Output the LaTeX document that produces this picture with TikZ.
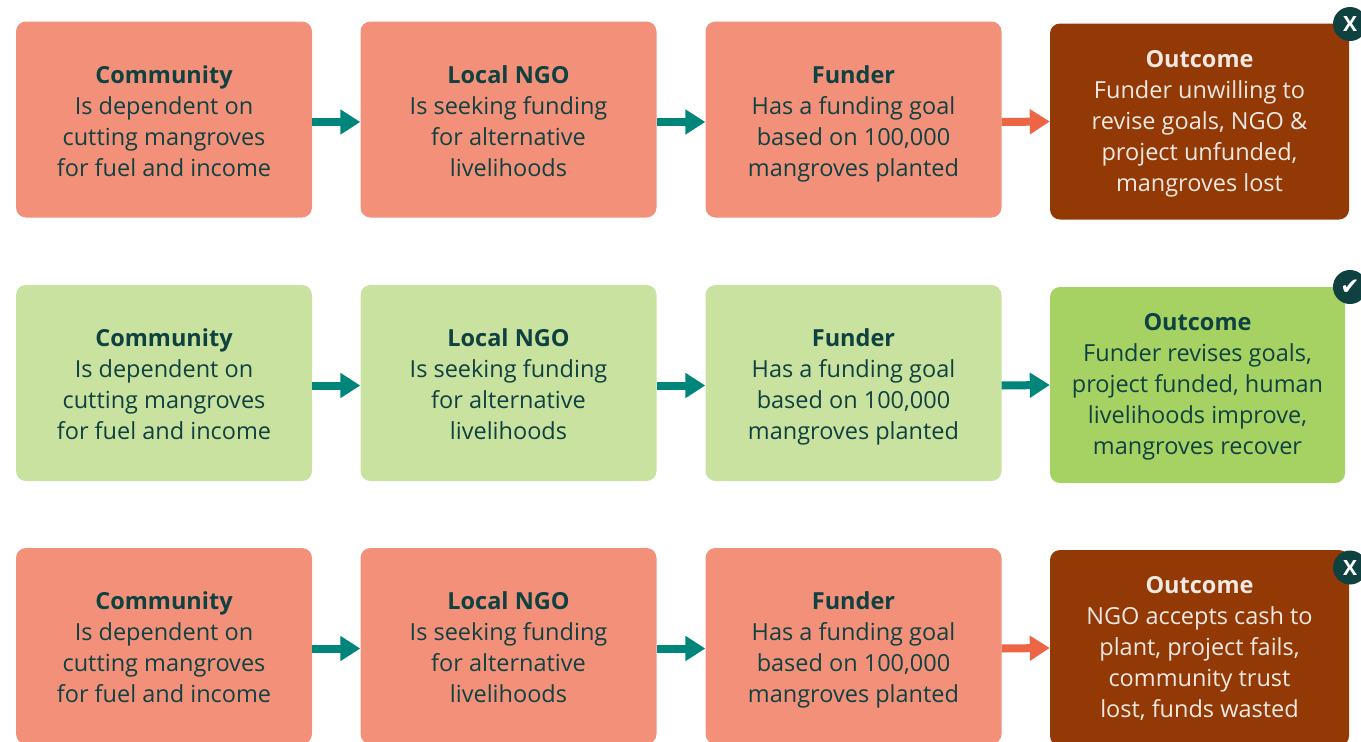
\documentclass[tikz,border=0pt]{standalone}
\usepackage{fontspec}
\setmainfont{Open Sans}
\newfontfamily\markfont{DejaVu Sans}
\usetikzlibrary{arrows.meta}
\definecolor{inkteal}{HTML}{0F4140}
\definecolor{salmon}{HTML}{F3907A}
\definecolor{palegreen}{HTML}{C9E2A0}
\definecolor{leafgreen}{HTML}{A5D263}
\definecolor{rustbrown}{HTML}{933905}
\definecolor{arrowteal}{HTML}{00857A}
\definecolor{arroworange}{HTML}{EC6545}
\definecolor{paletext}{HTML}{F3E9E3}
\newcommand{\actorhead}[1]{\rule{0pt}{26pt}\textbf{#1}}
\newcommand{\outhead}[1]{\rule{0pt}{21pt}\textbf{#1}}
\tikzset{
  actor/.style={rounded corners=10pt,minimum width=296pt,minimum height=196pt,inner sep=0pt,
    align=center,text=inkteal,font=\fontsize{23.5}{31}\selectfont,
    execute at end node={\vphantom{g}}},
  failbox/.style={actor,fill=salmon},
  passbox/.style={actor,fill=palegreen},
  lostout/.style={actor,fill=rustbrown,text=paletext,minimum width=299pt},
  wonout/.style={actor,fill=leafgreen,minimum width=295pt},
  flow/.style={-{Triangle[length=20pt,width=24pt]},line width=8pt,arrowteal},
  badflow/.style={flow,arroworange},
  badge/.style={circle,fill=inkteal,text=white,minimum size=34pt,inner sep=0pt,font=\fontsize{21}{21}\selectfont\bfseries}
}
\begin{document}
\begin{tikzpicture}[x=1pt,y=-1pt]
    \useasboundingbox (0,0) rectangle (1361,742);

    % Centres of the columns
    \def\xcom{164}
    \def\xngo{508.5}
    \def\xfun{853.5}
    \def\xout{1199.5}

    % Centres of the rows
    \def\yone{119.5}
    \def\ytwo{383}
    \def\ythree{646}
    \def\drop{2.5pt}  % arrows sit a little under the middle of the boxes

    % -- First row --
    \node[failbox] (com1) at (\xcom,\yone) {\actorhead{Community}\\Is dependent on\\cutting mangroves\\for fuel and income};
    \node[failbox] (ngo1) at (\xngo,\yone) {\actorhead{Local NGO}\\Is seeking funding\\for alternative\\livelihoods};
    \node[failbox] (fun1) at (\xfun,\yone) {\actorhead{Funder}\\Has a funding goal\\based on 100,000\\mangroves planted};
    \node[lostout] (out1) at (\xout,121.5) {\outhead{Outcome}\\Funder unwilling to\\revise goals, NGO \&\\project unfunded,\\mangroves lost};
    \node[badge] (mark1) at (1350,24) {X};
    \draw[flow] ([yshift=-\drop]com1.east) -- ([yshift=-\drop]ngo1.west);
    \draw[flow] ([yshift=-\drop]ngo1.east) -- ([yshift=-\drop]fun1.west);
    \draw[badflow] ([yshift=-\drop]fun1.east) -- (out1.west);

    % -- Second row --
    \node[passbox] (com2) at (\xcom,\ytwo) {\actorhead{Community}\\Is dependent on\\cutting mangroves\\for fuel and income};
    \node[passbox] (ngo2) at (\xngo,\ytwo) {\actorhead{Local NGO}\\Is seeking funding\\for alternative\\livelihoods};
    \node[passbox] (fun2) at (\xfun,\ytwo) {\actorhead{Funder}\\Has a funding goal\\based on 100,000\\mangroves planted};
    \node[wonout] (out2) at (1197.5,385) {\outhead{Outcome}\\Funder revises goals,\\project funded, human\\livelihoods improve,\\mangroves recover};
    \node[badge] (mark2) at (1350,287) {\markfont\fontsize{23}{23}\selectfont ✔};
    \draw[flow] ([yshift=-\drop]com2.east) -- ([yshift=-\drop]ngo2.west);
    \draw[flow] ([yshift=-\drop]ngo2.east) -- ([yshift=-\drop]fun2.west);
    \draw[flow] ([yshift=-\drop]fun2.east) -- (out2.west);

    % -- Third row (runs off the bottom) --
    \node[failbox] (com3) at (\xcom,\ythree) {\actorhead{Community}\\Is dependent on\\cutting mangroves\\for fuel and income};
    \node[failbox] (ngo3) at (\xngo,\ythree) {\actorhead{Local NGO}\\Is seeking funding\\for alternative\\livelihoods};
    \node[failbox] (fun3) at (\xfun,\ythree) {\actorhead{Funder}\\Has a funding goal\\based on 100,000\\mangroves planted};
    \node[lostout] (out3) at (\xout,648) {\outhead{Outcome}\\NGO accepts cash to\\plant, project fails,\\community trust\\lost, funds wasted};
    \node[badge] (mark3) at (1350,567.5) {X};
    \draw[flow] ([yshift=-\drop]com3.east) -- ([yshift=-\drop]ngo3.west);
    \draw[flow] ([yshift=-\drop]ngo3.east) -- ([yshift=-\drop]fun3.west);
    \draw[badflow] ([yshift=-\drop]fun3.east) -- (out3.west);

\end{tikzpicture}
\end{document}
